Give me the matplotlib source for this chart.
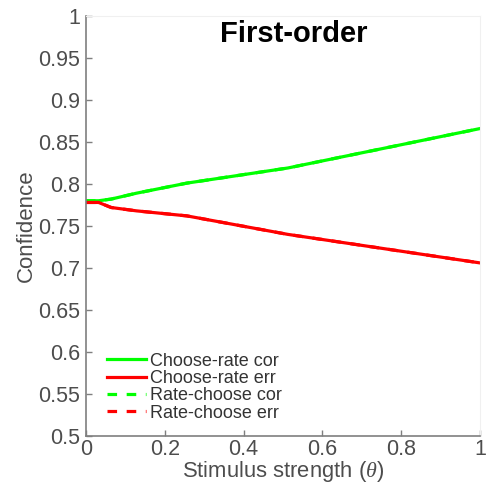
import matplotlib
matplotlib.use("Agg")
import matplotlib.pyplot as plt

plt.rcParams['font.family'] = ['Liberation Sans', 'DejaVu Sans']
plt.rcParams['mathtext.fontset'] = 'custom'
plt.rcParams['mathtext.it'] = 'Liberation Serif:italic'

# Stimulus strength levels and mean confidence
theta = [0.0, 0.032, 0.064, 0.128, 0.256, 0.512, 1.0]
conf_cor = [0.780, 0.780, 0.782, 0.789, 0.801, 0.819, 0.866]
conf_err = [0.778, 0.778, 0.772, 0.768, 0.762, 0.740, 0.706]

series_labels = ["Choose-rate cor", "Choose-rate err", "Rate-choose cor", "Rate-choose err"]
yticks = [0.5, 0.55, 0.6, 0.65, 0.7, 0.75, 0.8, 0.85, 0.9, 0.95, 1]
ytick_labels = ["0.5", "0.55", "0.6", "0.65", "0.7", "0.75", "0.8", "0.85", "0.9", "0.95", "1"]
xticks = [0, 0.2, 0.4, 0.6, 0.8, 1]
xtick_labels = ["0", "0.2", "0.4", "0.6", "0.8", "1"]

txt = "#4d4d4d"
fig = plt.figure(figsize=(4.91, 4.83), dpi=100)
ax = fig.add_axes([0.175, 0.0973, 0.803, 0.8697])

green = "#00ff00"
red = "#ff0000"
lw = 2.3
# Rate-choose (dashed) overlaps choose-rate in the first-order model
l3, = ax.plot(theta, conf_cor, color=green, lw=lw, ls=(0, (3, 3)), zorder=1)
l4, = ax.plot(theta, conf_err, color=red, lw=lw, ls=(0, (3, 3)), zorder=1)
l1, = ax.plot(theta, conf_cor, color=green, lw=lw, zorder=2)
l2, = ax.plot(theta, conf_err, color=red, lw=lw, zorder=2)

ax.set_xlim(0, 1)
ax.set_ylim(0.5, 1)
ax.set_xticks(xticks)
ax.set_xticklabels(xtick_labels)
ax.set_yticks(yticks)
ax.set_yticklabels(ytick_labels)
ax.tick_params(direction='in', length=4, width=1, colors="#7f7f7f",
               labelcolor=txt, labelsize=15.5, pad=4)
ax.tick_params(axis='x', pad=2.5)
for s in ['left', 'bottom']:
    ax.spines[s].set_color("#7f7f7f")
    ax.spines[s].set_linewidth(1.2)
for s in ['right', 'top']:
    ax.spines[s].set_color("#f0f0f0")
    ax.spines[s].set_linewidth(0.8)

ax.set_xlabel(r"Stimulus strength ($\theta$)", fontsize=15.8, color=txt, labelpad=-1.2)
ax.set_ylabel("Confidence", fontsize=16, color=txt, labelpad=1)

ax.text(0.528, 0.99, "First-order", transform=ax.transAxes, ha='center', va='top',
        fontsize=21, fontweight='bold', color='black')

leg = ax.legend([l1, l2, l3, l4], series_labels, loc='lower left',
                bbox_to_anchor=(0.025, 0.008), frameon=False, fontsize=13,
                labelspacing=0.02, handlelength=2.2, handletextpad=0.2,
                borderaxespad=0.2)
for t in leg.get_texts():
    t.set_color("#333333")

fig.savefig("out.png", dpi=100)
